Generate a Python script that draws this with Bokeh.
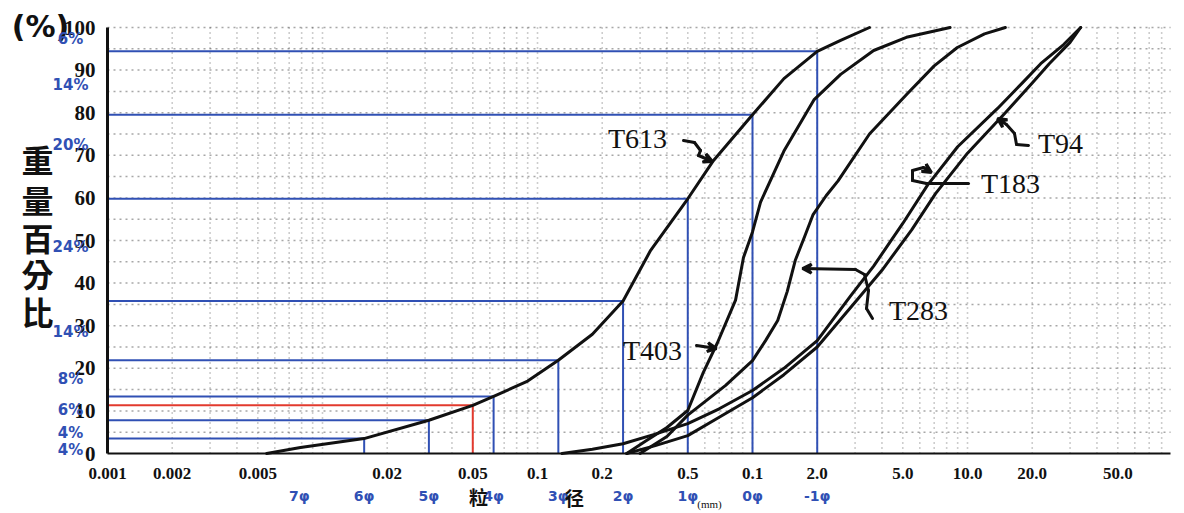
import math
from bokeh.plotting import figure
from bokeh.models import Range1d, FixedTicker, Label, Arrow, VeeHead
from bokeh.embed import file_html
from bokeh.resources import INLINE

# ---------------- data ----------------
x_ticks = [0.001, 0.002, 0.005, 0.02, 0.05, 0.1, 0.2, 0.5, 1.0, 2.0, 5.0, 10.0, 20.0, 50.0]
x_tick_labels = ["0.001", "0.002", "0.005", "0.02", "0.05", "0.1", "0.2", "0.5",
                 "0.1", "2.0", "5.0", "10.0", "20.0", "50.0"]
y_ticks = [0, 10, 20, 30, 40, 50, 60, 70, 80, 90, 100]

phi_names = ["7φ", "6φ", "5φ", "4φ", "3φ", "2φ", "1φ", "0φ", "-1φ"]
phi_mm = [0.0078125, 0.015625, 0.03125, 0.0625, 0.125, 0.25, 0.5, 1.0, 2.0]

# reading lines on curve T613
blue_mm = [0.015625, 0.03125, 0.0625, 0.125, 0.25, 0.5, 1.0, 2.0]
blue_pct = [3.5, 7.8, 13.4, 21.9, 35.8, 59.8, 79.5, 94.4]
red_mm = [0.05]
red_pct = [11.3]

frac_labels = ["6%", "14%", "20%", "24%", "14%", "8%", "6%", "4%", "4%"]
frac_label_pct = [97.4, 86.4, 72.5, 48.4, 28.6, 17.4, 10.3, 4.9, 0.9]

t613_mm = [0.0055, 0.0079, 0.0156, 0.03125, 0.05, 0.0625, 0.09, 0.125, 0.18, 0.25,
           0.336, 0.5, 0.659, 1.0, 1.4, 2.0, 2.57, 3.5]
t613_pct = [0, 1.4, 3.5, 7.8, 11.3, 13.4, 17, 21.9, 28, 35.8,
            47.7, 59.8, 68.8, 79.5, 88, 94.4, 97, 100]

t403_mm = [0.26, 0.32, 0.4, 0.5, 0.59, 0.687, 0.834, 0.908, 1.0, 1.09, 1.4, 1.93,
           2.57, 3.66, 5.2, 8.3]
t403_pct = [0, 3, 6.1, 10.1, 19, 26, 36, 46, 52, 59, 71, 83, 89, 94.6, 97.7, 100]

t283_mm = [0.3, 0.4, 0.5, 0.75, 1.0, 1.15, 1.31, 1.45, 1.58, 1.75, 1.91, 2.2, 2.5,
           3.5, 5.26, 7.0, 8.97, 12.0, 15.0]
t283_pct = [0, 4, 9, 16, 21.8, 26.5, 31.2, 38, 45.3, 51, 56, 60.5, 64,
            75, 84.5, 91, 95.3, 98.5, 100]

t183_mm = [0.13, 0.18, 0.25, 0.35, 0.5, 0.7, 1.0, 1.4, 2.0, 2.86, 3.66, 5.0, 6.52,
           9.0, 13.8, 18.0, 21.9, 28.0, 33.6]
t183_pct = [0, 1, 2.3, 4.5, 7, 10.5, 14.8, 20, 26.5, 37, 44, 54, 63,
            72, 81, 87, 91.5, 96, 100]

t94_mm = [0.26, 0.35, 0.5, 0.7, 1.0, 1.4, 2.0, 3.0, 4.0, 5.5, 7.1, 10.0, 15.0,
          20.0, 24.0, 30.0, 33.6]
t94_pct = [0, 1.8, 4.2, 8.5, 13.1, 18.5, 25, 35.5, 43, 52.5, 61, 70.5, 80,
           87, 91.5, 96.5, 100]

# ---------------- layout constants ----------------
W, H = 1182, 512
PX_X0 = 107          # pixel of 0.001 mm
PX_DEC = 215.0       # pixels per decade
PY_0, PY_100 = 453, 27
X0, X1 = 0.001, 88.0
ppu = (PY_0 - PY_100) / 100.0

xr = Range1d(10 ** (-3 - PX_X0 / PX_DEC), 10 ** (-3 + (W - PX_X0) / PX_DEC))
yr = Range1d(-(H - PY_0) / ppu, 100 + PY_100 / ppu)

p = figure(width=W, height=H, x_axis_type="log", x_range=xr, y_range=yr,
           min_border=0, output_backend="svg", toolbar_location=None)
p.outline_line_color = None
p.background_fill_color = "white"
p.grid.visible = False

# log-paper style dotted grid
grid_x = []
for e in [0.001, 0.01, 0.1, 1.0, 10.0]:
    for n in range(1, 10):
        v = round(n * e, 6)
        if X0 < v <= X1:
            grid_x.append(v)
grid_y = [v for v in range(5, 101, 5)]
p.segment(x0=grid_x, y0=[0] * len(grid_x), x1=grid_x, y1=[100] * len(grid_x),
          line_color="#222222", line_alpha=0.45, line_dash="1 4", line_width=1.6)
p.segment(x0=[X0] * len(grid_y), y0=grid_y, x1=[X1] * len(grid_y), y1=grid_y,
          line_color="#222222", line_alpha=0.4, line_dash="2 4", line_width=1.5)

# axes fixed at data locations
p.xaxis.ticker = FixedTicker(ticks=x_ticks)
p.xaxis.major_label_overrides = dict(zip(x_ticks, x_tick_labels))
p.xaxis.fixed_location = 0
p.xaxis.bounds = (X0, X1)
p.yaxis.ticker = FixedTicker(ticks=y_ticks)
p.yaxis.fixed_location = X0
p.yaxis.bounds = (0, 100)
for ax in (p.xaxis, p.yaxis):
    ax.major_tick_line_color = None
    ax.minor_tick_line_color = None
    ax.axis_line_color = "#111111"
    ax.major_label_text_font = "Liberation Serif"
    ax.major_label_text_font_style = "bold"
    ax.major_label_text_color = "#111111"
p.xaxis.axis_line_width = 2
p.yaxis.axis_line_width = 3
p.xaxis.major_label_text_font_size = "17px"
p.yaxis.major_label_text_font_size = "21px"
p.xaxis.major_label_standoff = 8
p.yaxis.major_label_standoff = 6

# reading lines
BLUE = "#3050b4"
RED = "#e23a2e"
n = len(blue_mm)
p.segment(x0=[X0] * n, y0=blue_pct, x1=blue_mm, y1=blue_pct, line_color=BLUE, line_width=2)
p.segment(x0=blue_mm, y0=[0] * n, x1=blue_mm, y1=blue_pct, line_color=BLUE, line_width=2)
p.segment(x0=[X0], y0=red_pct, x1=red_mm, y1=red_pct, line_color=RED, line_width=2)
p.segment(x0=red_mm, y0=[0], x1=red_mm, y1=red_pct, line_color=RED, line_width=2)

# curves
for xs, ys in [(t613_mm, t613_pct), (t403_mm, t403_pct), (t283_mm, t283_pct),
               (t183_mm, t183_pct), (t94_mm, t94_pct)]:
    p.line(xs, ys, line_color="#111111", line_width=3, line_join="round", line_cap="round")

# ---------------- annotations (canvas pixel helpers) ----------------
def sx(px):
    return px
def sy(py):
    return H - py

def lab(text, px, py, size, color="#111111", font="Liberation Serif", style="normal",
        align="center"):
    p.add_layout(Label(x=sx(px), y=sy(py), x_units="screen", y_units="screen", text=text,
                       text_align=align, text_baseline="middle", text_font_size=size,
                       text_color=color, text_font=font, text_font_style=style))

lab("(%)", 40, 26, "30px", style="bold", font="DejaVu Sans")
for ch, py in zip("重量百分比", [158, 198, 236, 272, 310]):
    lab(ch, 37, py, "32px", font="Noto Sans CJK TC", style="bold")

for t, v in zip(frac_labels, frac_label_pct):
    p.add_layout(Label(x=sx(70), y=v, x_units="screen", y_units="data", text=t,
                       text_align="center", text_baseline="middle", text_font_size="15px",
                       text_color=BLUE, text_font="DejaVu Sans", text_font_style="bold"))

for t, m in zip(phi_names, phi_mm):
    p.add_layout(Label(x=m, y=sy(495), x_units="data", y_units="screen", text=t,
                       text_align="center", text_baseline="middle", text_font_size="14px",
                       text_color=BLUE, text_font="DejaVu Sans", text_font_style="bold"))

lab("粒", 478, 496, "19px", font="Noto Sans CJK TC", style="bold")
lab("径", 574, 497, "19px", font="Noto Sans CJK TC", style="bold")
lab("(mm)", 709, 503, "11px", font="Liberation Serif")

# curve names
lab("T613", 637, 138, "28px")
lab("T403", 652, 350, "28px")
lab("T283", 918, 310, "28px")
lab("T183", 1010, 183, "28px")
lab("T94", 1060, 143, "28px")

def path(points, head=True):
    for i in range(len(points) - 1):
        (a, b), (c, d) = points[i], points[i + 1]
        last = head and i == len(points) - 2
        p.add_layout(Arrow(x_start=sx(a), y_start=sy(b), x_end=sx(c), y_end=sy(d),
                           start_units="screen", end_units="screen",
                           line_width=3, line_color="#111111", line_cap="round",
                           end=VeeHead(size=9, line_color="#111111", line_width=3,
                                       fill_color="#111111") if last else None))

path([(683, 140), (694, 142), (700, 150), (698, 155), (712, 161)])
path([(696, 345), (716, 348)])
path([(872, 318), (866, 308), (868, 290), (864, 274), (855, 269), (802, 268)])
path([(968, 183), (926, 183)], head=False)
path([(926, 183), (912, 180), (912, 170), (923, 167), (931, 172)])
path([(1028, 145), (1016, 144), (1014, 133), (1006, 124), (997, 118)])

open("out.html", "w").write(file_html(p, INLINE))
